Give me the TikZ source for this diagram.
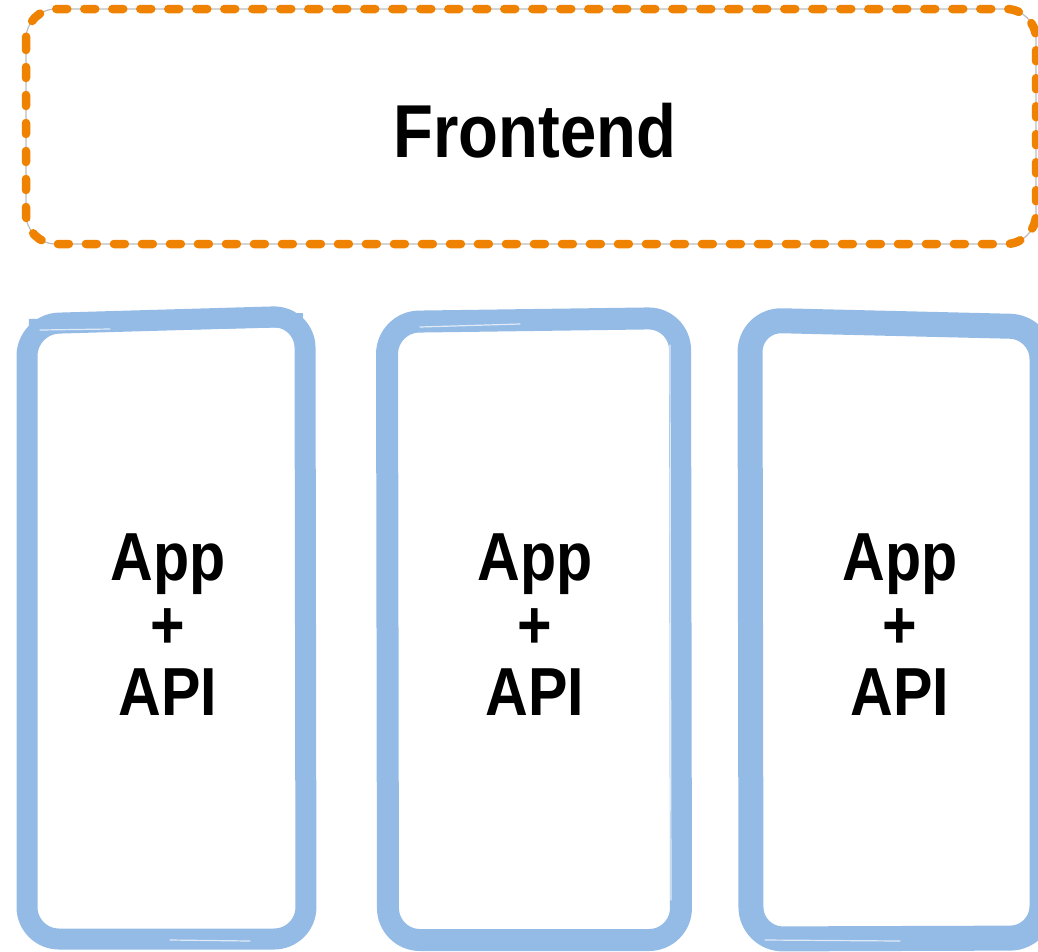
\documentclass[tikz,border=0pt]{standalone}
\usepackage{fontspec}
\setmainfont{Liberation Sans}
\newfontfamily\tallsans[FakeStretch=0.87]{Liberation Sans}
\definecolor{tierorange}{HTML}{EF8200}
\definecolor{tierblue}{HTML}{94BBE6}
\definecolor{guide}{HTML}{BDBDBD}
\begin{document}
\begin{tikzpicture}[x=1pt,y=-1pt,
  brush/.style={draw=tierblue,line width=#1,rounded corners=32pt,line join=round},
  brush/.default=21pt,
  streak/.style={draw=white,line width=1.2pt,opacity=0.7,line cap=round},
  label/.style={font=\tallsans\bfseries\fontsize{68}{67.5}\selectfont,align=center,inner sep=0pt}]
\useasboundingbox (0,0) rectangle (1038,951);
% frontend tier: thin guide line with a dashed orange outline on top
\draw[guide,line width=1.2pt,rounded corners=30pt] (26,9) rectangle (1036,244);
\draw[tierorange,line width=8.5pt,line cap=round,dash pattern=on 11pt off 17pt,
      rounded corners=30pt] (26,9) rectangle (1036,244);
\node[font=\tallsans\bfseries\fontsize{75}{80}\selectfont,inner sep=0pt,anchor=base]
  (frontend) at (535,157) {Frontend};
% three app tiers drawn as brushed rounded boxes
\draw[brush=21pt] (27,324) -- (305,316) -- (306,939) -- (27,939) -- cycle;
\draw[brush=14pt] (29,326) -- (303,320);
\draw[streak] (40,330) -- (110,329);
\draw[streak] (170,940) -- (250,941);
\draw[brush=22pt] (387,322) -- (680,318) -- (681,940) -- (388,940) -- cycle;
\draw[streak] (670,345) -- (671,900);
\draw[streak] (420,327) -- (520,324);
\draw[brush=25pt] (750,320) -- (1042,327) -- (1042,938) -- (751,939) -- cycle;
\draw[streak] (765,940) -- (900,941);
% tier labels
\node[label,anchor=center] (app1) at (168,625) {App\\+\\API};
\node[label,anchor=center] (app2) at (535,625) {App\\+\\API};
\node[label,anchor=center] (app3) at (900,625) {App\\+\\API};
\end{tikzpicture}
\end{document}
